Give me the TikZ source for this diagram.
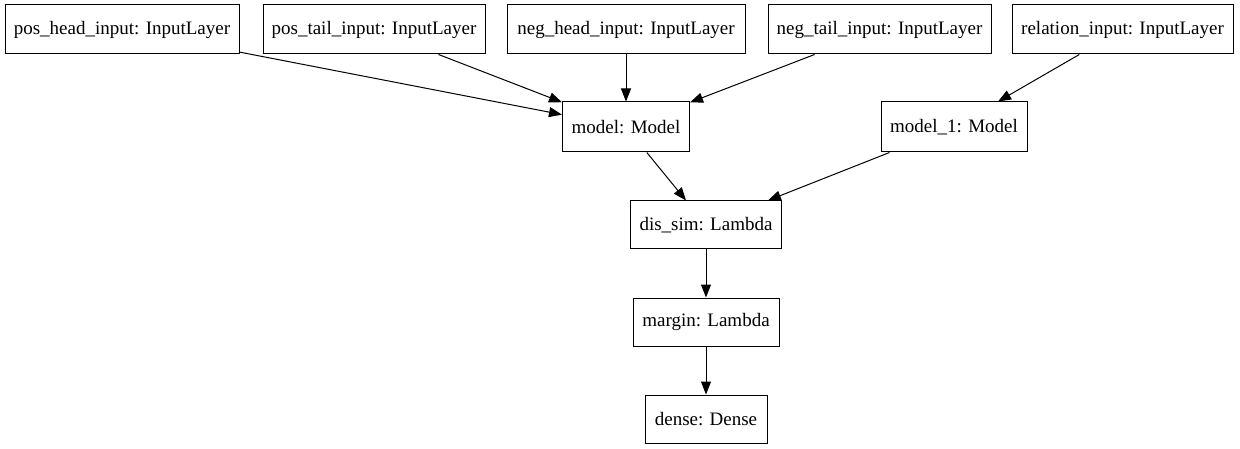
\documentclass[tikz,border=0pt]{standalone}
\usepackage{fontspec}
\setmainfont{Liberation Serif}
\usetikzlibrary{arrows.meta}
\begin{document}
\begin{tikzpicture}[x=1pt,y=-1pt,
  layer/.style={draw=black,line width=1pt,inner sep=0pt,align=center,
    font=\fontsize{19}{22}\selectfont},
  conn/.style={draw=black,line width=1pt,-{Triangle[length=13pt,width=10pt]}}]
\useasboundingbox (0,0) rectangle (1240,449);
\node[layer,minimum width=234pt,minimum height=49pt] (ph) at (122,29.5) {pos\_head\_input: InputLayer};
\node[layer,minimum width=222pt,minimum height=49pt] (pt) at (374,29.5) {pos\_tail\_input: InputLayer};
\node[layer,minimum width=238pt,minimum height=49pt] (nh) at (626,29.5) {neg\_head\_input: InputLayer};
\node[layer,minimum width=223pt,minimum height=49pt] (nt) at (879.5,29.5) {neg\_tail\_input: InputLayer};
\node[layer,minimum width=221pt,minimum height=49pt] (ri) at (1122.5,29.5) {relation\_input: InputLayer};
\node[layer,minimum width=127pt,minimum height=50pt] (m) at (626,127) {model: Model};
\node[layer,minimum width=146pt,minimum height=50pt] (m1) at (954,127) {model\_1: Model};
\node[layer,minimum width=151pt,minimum height=48pt] (ds) at (706,225) {dis\_sim: Lambda};
\node[layer,minimum width=146pt,minimum height=48pt] (mg) at (706,322) {margin: Lambda};
\node[layer,minimum width=122pt,minimum height=48pt] (dn) at (706,419) {dense: Dense};
\draw[conn] (ph) -- (m);
\draw[conn] (pt) -- (m);
\draw[conn] (nh) -- (m);
\draw[conn] (nt) -- (m);
\draw[conn] (ri) -- (m1);
\draw[conn] (m) -- (ds);
\draw[conn] (m1) -- (ds);
\draw[conn] (ds) -- (mg);
\draw[conn] (mg) -- (dn);
\end{tikzpicture}
\end{document}
